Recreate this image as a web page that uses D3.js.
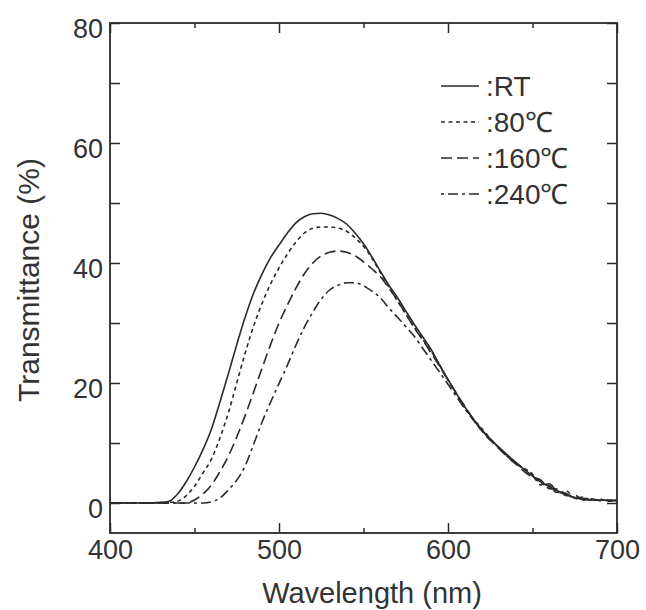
<!DOCTYPE html>
<html>
<head>
<meta charset="utf-8">
<script src="https://cdn.jsdelivr.net/npm/d3@7"></script>
<style>
  html, body { margin: 0; padding: 0; background: #fff; }
  svg { display: block; }
  text { font-family: "Liberation Sans", Arial, Helvetica, sans-serif; fill: #333; }
</style>
</head>
<body>
<svg id="chart" width="646" height="610"></svg>
<script>
// ---- data ----
const wavelengths = [400,410,420,430,435,440,445,450,455,460,465,470,475,480,485,490,495,500,505,510,515,520,525,530,535,540,545,550,555,560,565,570,575,580,585,590,595,600,610,620,630,640,650,655,660,665,670,675,680,685,690,695,700];
const seriesRT  = [0,0,0,0.1,0.3,1.5,3.5,6,8.9,12.3,16.8,21.5,26.4,31,35,38.2,40.9,43,45,46.7,47.7,48.2,48.3,48,47.4,46.5,45,43.2,41,38.6,36.3,34.3,32,29.8,27.7,25.6,23,20.6,16,12.2,9.3,6.8,4.5,3.5,2.7,2.0,1.4,0.9,0.6,0.5,0.5,0.4,0.4];
const series80  = [0,0,0,0,0.1,0.3,1.2,2.8,5,7.3,10.8,15,20,25,29.5,33.3,36.5,39.2,41.5,43.5,45,45.8,46,46,45.8,45.3,44.2,42.8,40.8,38.4,36,33.7,31.5,29.3,27.3,25.3,23,20.5,15.8,12.4,9.2,6.6,4.8,3.2,2.9,1.6,2.0,0.8,1.0,0.4,0.6,0.3,0.5];
const series160 = [0,0,0,0,0,0,0,0.5,1.5,3,5.2,7.8,11,14.6,18.5,22.5,26.4,30,33,35.8,38.2,40,41.2,41.8,42,41.8,41.2,40.2,39,37.7,35.8,33.8,31.5,29.2,27.2,25,22.8,20.5,16.1,12.0,9.1,6.5,4.3,3.8,2.4,2.3,1.2,1.3,0.5,0.7,0.4,0.5,0.4];
const series240 = [0,0,0,0,0,0,0,0,0,0.2,0.8,2.2,3.8,6.2,9.8,13.5,16.8,19.9,23,26.3,29.3,31.8,34,35.5,36.3,36.7,36.7,36.2,35.3,34.2,32.5,31,29.4,27.8,25.8,23.8,21.8,19.8,15.7,12.1,9.3,6.7,4.6,3.0,3.2,1.8,1.6,0.7,0.8,0.5,0.5,0.4,0.4];
const seriesLabels = [":RT", ":80\u2103", ":160\u2103", ":240\u2103"];
const xTickLabels = [400, 500, 600, 700];
const xMinorTicks = [450, 550, 650];
const yTickLabels = [0, 20, 40, 60, 80];
const yMinorTicks = [10, 30, 50, 70];
const xTitle = "Wavelength (nm)";
const yTitle = "Transmittance (%)";

// ---- layout ----
const svg = d3.select("#chart");
const L = 110, R = 617, T = 23, B = 533;
const x = d3.scaleLinear().domain([400, 700]).range([L, R]);
const y = d3.scaleLinear().domain([-5, 80]).range([B, T]);
const ink = "#2a2a2a";
const fs = 27;

function clean(g) {
  g.select(".domain").remove();
  g.selectAll("line").attr("stroke", ink).attr("stroke-width", 1.5);
}

// frame
svg.append("rect").attr("x", L).attr("y", T).attr("width", R - L).attr("height", B - T)
  .attr("fill", "none").attr("stroke", ink).attr("stroke-width", 1.8);

// bottom axis
svg.append("g").attr("transform", `translate(0,${B})`)
  .call(d3.axisBottom(x).tickValues(xTickLabels).tickSize(-10).tickSizeOuter(0).tickPadding(7).tickFormat(d3.format("d")))
  .call(clean)
  .call(g => g.selectAll("text").attr("font-size", fs).attr("fill", "#333")
    .attr("font-family", "'Liberation Sans', Arial, sans-serif"));
svg.append("g").attr("transform", `translate(0,${B})`)
  .call(d3.axisBottom(x).tickValues(xMinorTicks).tickSize(-5).tickSizeOuter(0).tickFormat(""))
  .call(clean);
// top axis
svg.append("g").attr("transform", `translate(0,${T})`)
  .call(d3.axisTop(x).tickValues(xTickLabels).tickSize(-10).tickSizeOuter(0).tickFormat(""))
  .call(clean);
svg.append("g").attr("transform", `translate(0,${T})`)
  .call(d3.axisTop(x).tickValues(xMinorTicks).tickSize(-5).tickSizeOuter(0).tickFormat(""))
  .call(clean);
// left axis
svg.append("g").attr("transform", `translate(${L},0)`)
  .call(d3.axisLeft(y).tickValues(yTickLabels).tickSize(-10).tickSizeOuter(0).tickPadding(7).tickFormat(d3.format("d")))
  .call(clean)
  .call(g => g.selectAll("text").attr("font-size", fs).attr("fill", "#333").attr("dy", "0.52em")
    .attr("font-family", "'Liberation Sans', Arial, sans-serif"));
svg.append("g").attr("transform", `translate(${L},0)`)
  .call(d3.axisLeft(y).tickValues(yMinorTicks).tickSize(-10).tickSizeOuter(0).tickFormat(""))
  .call(clean);
// right axis
svg.append("g").attr("transform", `translate(${R},0)`)
  .call(d3.axisRight(y).tickValues(yTickLabels.concat(yMinorTicks)).tickSize(-10).tickSizeOuter(0).tickFormat(""))
  .call(clean);

// titles
svg.append("text").attr("x", 372).attr("y", 603).attr("text-anchor", "middle")
  .attr("font-size", 29).text(xTitle);
svg.append("text").attr("transform", "translate(39,280) rotate(-90)").attr("text-anchor", "middle")
  .attr("font-size", 30).text(yTitle);

// series
const allSeries = [seriesRT, series80, series160, series240];
const dashes = [null, "4,3.5", "11,5", "3,4,10,4"];
const line = d3.line()
  .x(d => x(d[0]))
  .y(d => y(d[1]))
  .curve(d3.curveMonotoneX);

allSeries.forEach((vals, i) => {
  const pts = wavelengths.map((w, j) => [w, vals[j]]);
  svg.append("path").datum(pts)
    .attr("d", line)
    .attr("fill", "none")
    .attr("stroke", ink)
    .attr("stroke-width", 1.6)
    .attr("stroke-dasharray", dashes[i]);
});

// legend
seriesLabels.forEach((lab, i) => {
  const ly = 86 + i * 36;
  svg.append("line").attr("x1", 441).attr("x2", 479).attr("y1", ly).attr("y2", ly)
    .attr("stroke", ink).attr("stroke-width", 1.6).attr("stroke-dasharray", dashes[i]);
  svg.append("text").attr("x", 486).attr("y", ly + 10).attr("font-size", 28).text(lab);
});
</script>
</body>
</html>
